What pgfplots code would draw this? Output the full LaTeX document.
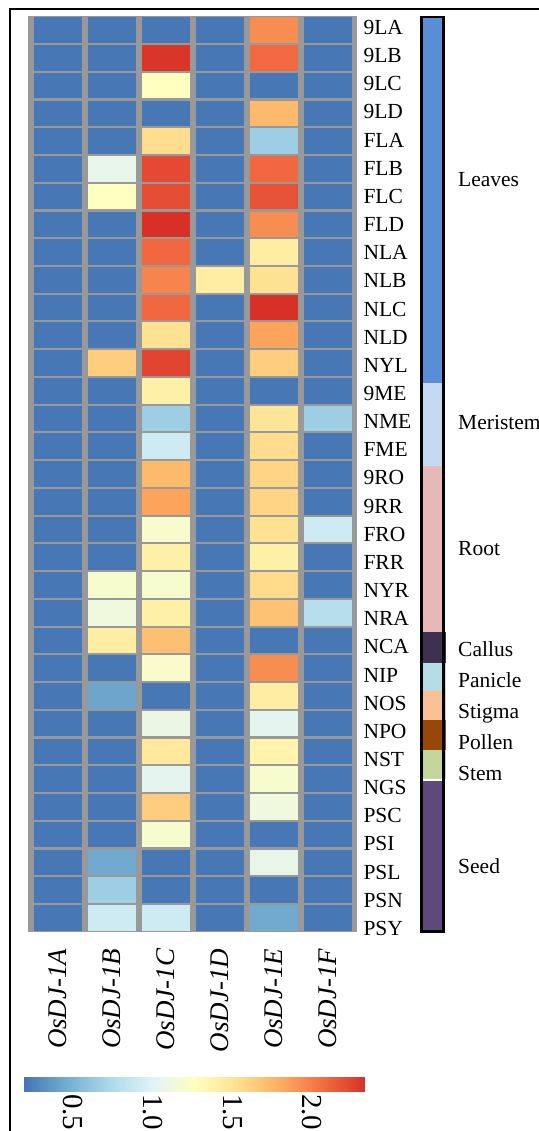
\documentclass[border=0pt]{standalone}
\usepackage{pgfplots}
\pgfplotsset{compat=1.18}
\usepackage{pgfplotstable}
\usepackage{fontspec}
\setmainfont{Liberation Serif}
\definecolor{gridgray}{RGB}{153,153,153}
\definecolor{cLeaves}{RGB}{89,141,213}
\definecolor{cMeristem}{RGB}{197,217,240}
\definecolor{cRoot}{RGB}{230,185,184}
\definecolor{cCallus}{RGB}{62,49,80}
\definecolor{cPanicle}{RGB}{181,221,230}
\definecolor{cStigma}{RGB}{249,193,147}
\definecolor{cPollen}{RGB}{151,72,7}
\definecolor{cStem}{RGB}{196,214,156}
\definecolor{cSeed}{RGB}{95,73,122}
\tikzset{grp/.style={anchor=west, font=\fontsize{21.5bp}{24bp}\selectfont, inner sep=0pt, text height=14.2bp, text depth=0pt}}
\pgfdeclareplotmark{cell}{\pgfpathrectangle{\pgfpoint{-23.65bp}{-12.8bp}}{\pgfpoint{47.3bp}{25.6bp}}\pgfusepath{fill}}

\pgfplotstableread[row sep=\\]{
x y v\\
0 0 0.2\\ 1 0 0.2\\ 2 0 0.2\\ 3 0 0.2\\ 4 0 1.93\\ 5 0 0.2\\
0 1 0.2\\ 1 1 0.2\\ 2 1 2.31\\ 3 1 0.2\\ 4 1 2.08\\ 5 1 0.2\\
0 2 0.2\\ 1 2 0.2\\ 2 2 1.26\\ 3 2 0.2\\ 4 2 0.2\\ 5 2 0.2\\
0 3 0.2\\ 1 3 0.2\\ 2 3 0.2\\ 3 3 0.2\\ 4 3 1.73\\ 5 3 0.2\\
0 4 0.2\\ 1 4 0.2\\ 2 4 1.54\\ 3 4 0.2\\ 4 4 0.66\\ 5 4 0.2\\
0 5 0.2\\ 1 5 1.06\\ 2 5 2.22\\ 3 5 0.2\\ 4 5 2.09\\ 5 5 0.2\\
0 6 0.2\\ 1 6 1.26\\ 2 6 2.20\\ 3 6 0.2\\ 4 6 2.18\\ 5 6 0.2\\
0 7 0.2\\ 1 7 0.2\\ 2 7 2.33\\ 3 7 0.2\\ 4 7 1.93\\ 5 7 0.2\\
0 8 0.2\\ 1 8 0.2\\ 2 8 2.09\\ 3 8 0.2\\ 4 8 1.42\\ 5 8 0.2\\
0 9 0.2\\ 1 9 0.2\\ 2 9 1.97\\ 3 9 1.42\\ 4 9 1.51\\ 5 9 0.2\\
0 10 0.2\\ 1 10 0.2\\ 2 10 2.09\\ 3 10 0.2\\ 4 10 2.33\\ 5 10 0.2\\
0 11 0.2\\ 1 11 0.2\\ 2 11 1.51\\ 3 11 0.2\\ 4 11 1.84\\ 5 11 0.2\\
0 12 0.2\\ 1 12 1.63\\ 2 12 2.24\\ 3 12 0.2\\ 4 12 1.63\\ 5 12 0.2\\
0 13 0.2\\ 1 13 0.2\\ 2 13 1.39\\ 3 13 0.2\\ 4 13 0.2\\ 5 13 0.2\\
0 14 0.2\\ 1 14 0.2\\ 2 14 0.66\\ 3 14 0.2\\ 4 14 1.49\\ 5 14 0.66\\
0 15 0.2\\ 1 15 0.2\\ 2 15 0.90\\ 3 15 0.2\\ 4 15 1.54\\ 5 15 0.2\\
0 16 0.2\\ 1 16 0.2\\ 2 16 1.73\\ 3 16 0.2\\ 4 16 1.59\\ 5 16 0.2\\
0 17 0.2\\ 1 17 0.2\\ 2 17 1.84\\ 3 17 0.2\\ 4 17 1.59\\ 5 17 0.2\\
0 18 0.2\\ 1 18 0.2\\ 2 18 1.19\\ 3 18 0.2\\ 4 18 1.51\\ 5 18 0.90\\
0 19 0.2\\ 1 19 0.2\\ 2 19 1.39\\ 3 19 0.2\\ 4 19 1.39\\ 5 19 0.2\\
0 20 0.2\\ 1 20 1.19\\ 2 20 1.19\\ 3 20 0.2\\ 4 20 1.55\\ 5 20 0.2\\
0 21 0.2\\ 1 21 1.12\\ 2 21 1.39\\ 3 21 0.2\\ 4 21 1.69\\ 5 21 0.78\\
0 22 0.2\\ 1 22 1.42\\ 2 22 1.70\\ 3 22 0.2\\ 4 22 0.2\\ 5 22 0.2\\
0 23 0.2\\ 1 23 0.2\\ 2 23 1.20\\ 3 23 0.2\\ 4 23 1.93\\ 5 23 0.2\\
0 24 0.2\\ 1 24 0.42\\ 2 24 0.2\\ 3 24 0.2\\ 4 24 1.42\\ 5 24 0.2\\
0 25 0.2\\ 1 25 0.2\\ 2 25 1.09\\ 3 25 0.2\\ 4 25 1.03\\ 5 25 0.2\\
0 26 0.2\\ 1 26 0.2\\ 2 26 1.45\\ 3 26 0.2\\ 4 26 1.36\\ 5 26 0.2\\
0 27 0.2\\ 1 27 0.2\\ 2 27 1.03\\ 3 27 0.2\\ 4 27 1.19\\ 5 27 0.2\\
0 28 0.2\\ 1 28 0.2\\ 2 28 1.63\\ 3 28 0.2\\ 4 28 1.12\\ 5 28 0.2\\
0 29 0.2\\ 1 29 0.2\\ 2 29 1.19\\ 3 29 0.2\\ 4 29 0.2\\ 5 29 0.2\\
0 30 0.2\\ 1 30 0.44\\ 2 30 0.2\\ 3 30 0.2\\ 4 30 1.06\\ 5 30 0.2\\
0 31 0.2\\ 1 31 0.66\\ 2 31 0.2\\ 3 31 0.2\\ 4 31 0.2\\ 5 31 0.2\\
0 32 0.2\\ 1 32 0.90\\ 2 32 0.90\\ 3 32 0.2\\ 4 32 0.44\\ 5 32 0.2\\
}\heat

\begin{document}
\begin{tikzpicture}
\useasboundingbox (0,-1131bp) rectangle (539bp,0);
% outer frame
\draw[line width=2.2bp] (10.2bp,-1140bp) -- (10.2bp,-9bp) -- (545bp,-9bp);

% heatmap
\begin{axis}[
  at={(27.7bp,-16bp)}, anchor=north west,
  scale only axis, width=329.6bp, height=916.3bp,
  xmin=-0.560, xmax=5.543, ymin=-0.508, ymax=32.52, y dir=reverse,
  axis background/.style={fill=gridgray},
  axis line style={draw=none},
  major tick length=0pt,
  ytick=\empty,
  xtick={0,1,2,3,4,5},
  xticklabels={OsDJ-1A,OsDJ-1B,OsDJ-1C,OsDJ-1D,OsDJ-1E,OsDJ-1F},
  xticklabel style={rotate=90, anchor=east, font=\fontsize{27bp}{30bp}\selectfont\itshape, inner xsep=16bp, inner ysep=0pt},
  colormap={rdylbu}{rgb255=(69,117,180) rgb255=(116,173,209) rgb255=(171,217,233) rgb255=(224,243,248) rgb255=(255,255,191) rgb255=(254,224,144) rgb255=(253,174,97) rgb255=(244,109,67) rgb255=(215,48,39)},
  point meta min=0.19, point meta max=2.33,
  colorbar horizontal,
  colorbar style={
     at={(parent axis.south west)}, anchor=north west, xshift=-3.7bp, yshift=-127.7bp,
     scale only axis, width=341bp, height=23bp,
     xtick={0.5,1.0,1.5,2.0},
     axis line style={draw=none}, major tick length=0pt,
     /pgf/number format/fixed, /pgf/number format/fixed zerofill, /pgf/number format/precision=1,
     /pgf/number format/assume math mode=true,
     xticklabel style={rotate=-90, anchor=west, font=\fontsize{29bp}{32bp}\selectfont, inner xsep=2.5bp, inner ysep=0pt},
  },
]
\addplot[scatter, only marks, mark=cell, scatter src=explicit,
  scatter/use mapped color={fill=mapped color, draw=none}]
  table[x=x, y=y, meta=v] {\heat};
\end{axis}

% row labels
\begin{axis}[
  at={(27.7bp,-16bp)}, anchor=north west,
  scale only axis, width=329.6bp, height=916.3bp,
  xmin=0, xmax=1, ymin=-0.4085, ymax=32.142, y dir=reverse,
  axis line style={draw=none}, major tick length=0pt,
  xtick=\empty, ytick={0,1,...,32},
  yticklabels={9LA,9LB,9LC,9LD,FLA,FLB,FLC,FLD,NLA,NLB,NLC,NLD,NYL,9ME,NME,FME,9RO,9RR,FRO,FRR,NYR,NRA,NCA,NIP,NOS,NPO,NST,NGS,PSC,PSI,PSL,PSN,PSY},
  yticklabel pos=right,
  yticklabel style={font=\fontsize{21.5bp}{24bp}\selectfont, inner xsep=6bp, inner ysep=0pt},
]
\addplot[draw=none] coordinates {(0,0)};
\end{axis}

% tissue side bar (pixel coordinates)
\begin{axis}[
  at={(0bp,0bp)}, anchor=north west, scale only axis, width=539bp, height=1131bp,
  xmin=0, xmax=539, ymin=0, ymax=1131, y dir=reverse, hide axis, clip=false,
]
\addplot[fill=cLeaves, draw=none] coordinates {(421,17) (444,17) (444,383) (421,383)} -- cycle;
\addplot[fill=cMeristem, draw=none] coordinates {(421,383) (444,383) (444,466) (421,466)} -- cycle;
\addplot[fill=cRoot, draw=none] coordinates {(421,466) (444,466) (444,632) (421,632)} -- cycle;
\addplot[fill=cCallus, draw=none] coordinates {(421,632) (446,632) (446,663) (421,663)} -- cycle;
\addplot[fill=cPanicle, draw=none] coordinates {(421,663) (446,663) (446,691) (421,691)} -- cycle;
\addplot[fill=cStigma, draw=none] coordinates {(421,691) (446,691) (446,720) (421,720)} -- cycle;
\addplot[fill=cPollen, draw=none] coordinates {(421,720) (446,720) (446,750) (421,750)} -- cycle;
\addplot[fill=cStem, draw=none] coordinates {(421,750) (446,750) (446,779) (421,779)} -- cycle;
\addplot[fill=cSeed, draw=none] coordinates {(421,780.5) (444,780.5) (444,932) (421,932)} -- cycle;
\addplot[draw=black, line width=2.5bp, line join=miter] coordinates {(421.3,17.2) (443.7,17.2) (443.7,931.5) (421.3,931.5)} -- cycle;
\node[grp] at (axis cs:458,179.3) {Leaves};
\node[grp] at (axis cs:458,422.5) {Meristem};
\node[grp] at (axis cs:458,548.5) {Root};
\node[grp] at (axis cs:458,649) {Callus};
\node[grp] at (axis cs:458,680.5) {Panicle};
\node[grp] at (axis cs:458,711) {Stigma};
\node[grp] at (axis cs:458,742) {Pollen};
\node[grp] at (axis cs:458,773) {Stem};
\node[grp] at (axis cs:458,866) {Seed};
\end{axis}
\end{tikzpicture}
\end{document}
